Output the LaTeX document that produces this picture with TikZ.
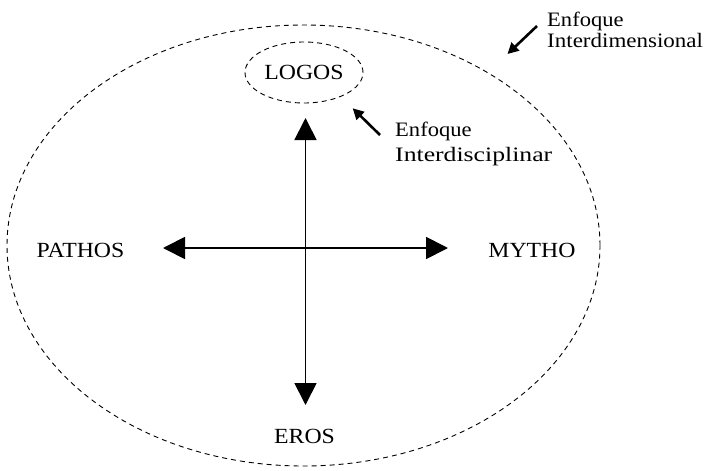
\documentclass[tikz,border=0pt]{standalone}
\usepackage{fontspec}
\setmainfont{Liberation Serif}
\newfontfamily\labfont[FakeStretch=1.1]{Liberation Serif}
\usetikzlibrary{arrows.meta,shapes.geometric}
\tikzset{
  lbl/.style={font=\labfont\fontsize{21.6}{24}\selectfont, inner sep=0pt, anchor=base},
  note/.style={font=\labfont\fontsize{20.5}{23}\selectfont, inner sep=0pt, anchor=base west},
  dashring/.style={draw, ellipse, inner sep=0pt, line width=0.9pt, dash pattern=on 5pt off 4pt},
  axis/.style={line width=1.8pt, {Triangle[length=22pt,width=22pt]}-{Triangle[length=22pt,width=22pt]}},
  pointer/.style={line width=2.6pt, -{Triangle[length=11pt,width=11pt]}}
}
\begin{document}
\begin{tikzpicture}[x=1pt,y=-1pt]
\useasboundingbox (0,0) rectangle (704,471);
% outer ellipse
\node[dashring, minimum width=593pt, minimum height=441pt] (outer) at (303.5,245.5) {};
% inner ellipse around LOGOS
\node[dashring, minimum width=118pt, minimum height=61pt] (inner) at (304,72.5) {};
% labels
\node[lbl] (logos) at (304,79.3) {LOGOS};
\node[lbl] (pathos) at (80.5,257.7) {PATHOS};
\node[lbl] (mytho) at (532,257.7) {MYTHO};
\node[lbl] (eros) at (304.5,443.3) {EROS};
% axes
\coordinate (vtop) at (305.5,118);
\coordinate (vbot) at (305.5,405);
\coordinate (hleft) at (163,248);
\coordinate (hright) at (448,248);
\draw[axis] (vtop) -- (vbot);
\draw[axis] (hleft) -- (hright);
% notes
\node[note] (ei1) at (395,136.7) {Enfoque};
\node[note] (ei2) at (395,161) {\scalebox{1.14}[1]{Interdisciplinar}};
\node[note] (ed1) at (547,26) {Enfoque};
\node[note] (ed2) at (547,47.5) {\scalebox{1.02}[1]{Interdimensional}};
\coordinate (eitail) at (380,135);
\coordinate (eitip) at (352.7,108.3);
\coordinate (edtail) at (537,26);
\coordinate (edtip) at (507.5,54);
\draw[pointer] (eitail) -- (eitip);
\draw[pointer] (edtail) -- (edtip);
\end{tikzpicture}
\end{document}
